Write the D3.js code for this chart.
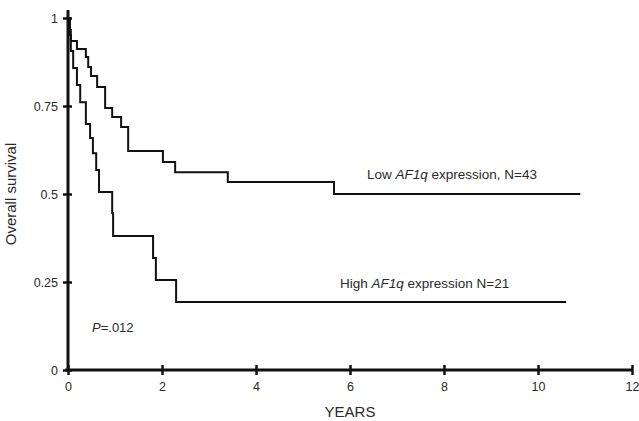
<html>
<head>
<meta charset="utf-8">
<script src="https://cdn.jsdelivr.net/npm/d3@7"></script>
<style>
  body { margin: 0; background: #fff; }
  text { font-family: 'Liberation Sans', Arial, sans-serif; fill: #2a2a2a; }
  .axis .domain { display: none; }
  .axis line { stroke: #111; stroke-width: 2.5; }
  .axis text { font-size: 12.5px; }
  .km { fill: none; stroke: #111; stroke-width: 2; }
</style>
</head>
<body>
<script>
// Kaplan-Meier steps (years, survival)
var lowTimes  = [0, 0.04, 0.06, 0.19, 0.38, 0.43, 0.49, 0.62, 0.79, 0.94, 1.13, 1.28, 2.02, 2.28, 3.40, 5.66, 10.9];
var lowSurv   = [1, 0.966, 0.935, 0.912, 0.889, 0.861, 0.835, 0.804, 0.744, 0.719, 0.690, 0.622, 0.591, 0.562, 0.534, 0.500, 0.500];
var highTimes = [0, 0.04, 0.06, 0.11, 0.19, 0.26, 0.38, 0.47, 0.53, 0.60, 0.66, 0.94, 0.96, 1.81, 1.87, 2.30, 10.6];
var highSurv  = [1, 0.952, 0.906, 0.858, 0.810, 0.761, 0.699, 0.659, 0.616, 0.568, 0.506, 0.446, 0.381, 0.318, 0.256, 0.193, 0.193];

var xTicks = [0, 2, 4, 6, 8, 10, 12];
var yTicks = [0, 0.25, 0.5, 0.75, 1];
var yTickLabels = ['0', '0.25', '0.5', '0.75', '1'];

var margin = {top: 18, right: 7, bottom: 51, left: 68};
var width = 639 - margin.left - margin.right;
var height = 421 - margin.top - margin.bottom;

var svg = d3.select('body')
            .append('svg')
            .attr('width', 639)
            .attr('height', 421)
            .append('g')
            .attr('transform', 'translate(' + margin.left + ',' + margin.top + ')');

var x = d3.scaleLinear().domain([0, 12]).range([0, width]);
var y = d3.scaleLinear().domain([0, 1]).range([height, 0]);

// curves
var line = d3.line()
             .x(function(d) { return x(d.t); })
             .y(function(d) { return y(d.s); })
             .curve(d3.curveStepAfter);

function pairs(ts, ss) {
  return ts.map(function(t, i) { return {t: t, s: ss[i]}; });
}

svg.append('path').attr('class', 'km').attr('d', line(pairs(lowTimes, lowSurv)));
svg.append('path').attr('class', 'km').attr('d', line(pairs(highTimes, highSurv)));

// axes
svg.append('line')
   .attr('x1', 0).attr('x2', 0)
   .attr('y1', y(1) - 8).attr('y2', y(0))
   .attr('stroke', '#111').attr('stroke-width', 3);
svg.append('line')
   .attr('x1', -3).attr('x2', x(12))
   .attr('y1', y(0)).attr('y2', y(0))
   .attr('stroke', '#111').attr('stroke-width', 3);

var yAxis = svg.append('g')
   .attr('class', 'axis')
   .call(d3.axisLeft(y).tickValues(yTicks).tickSize(4).tickPadding(6)
           .tickFormat(function(d, i) { return yTickLabels[i]; }));
yAxis.selectAll('.tick line').attr('x1', -5).attr('x2', 4);
yAxis.selectAll('.tick text').attr('x', -10);

var xAxis = svg.append('g')
   .attr('class', 'axis')
   .attr('transform', 'translate(0,' + height + ')')
   .call(d3.axisBottom(x).tickValues(xTicks).tickSize(4).tickFormat(d3.format('d')));
xAxis.selectAll('.tick line').attr('y1', -5).attr('y2', 5);
xAxis.selectAll('.tick text').attr('y', 12);

// axis titles
svg.append('text')
   .attr('x', x(6)).attr('y', height + 47)
   .attr('text-anchor', 'middle')
   .style('font-size', '15px')
   .text('YEARS');

svg.append('text')
   .attr('transform', 'translate(' + (-52) + ',' + y(0.5) + ') rotate(-90)')
   .attr('text-anchor', 'middle')
   .style('font-size', '15px')
   .text('Overall survival');

// annotations
var lowLab = svg.append('text')
   .attr('x', 299).attr('y', 161)
   .style('font-size', '13.5px');
lowLab.append('tspan').text('Low ');
lowLab.append('tspan').style('font-style', 'italic').text('AF1q');
lowLab.append('tspan').text(' expression, N=43');

var highLab = svg.append('text')
   .attr('x', 272).attr('y', 270)
   .style('font-size', '13.5px');
highLab.append('tspan').text('High ');
highLab.append('tspan').style('font-style', 'italic').text('AF1q');
highLab.append('tspan').text(' expression N=21');

var pLab = svg.append('text')
   .attr('x', 24).attr('y', 314)
   .style('font-size', '13px');
pLab.append('tspan').style('font-style', 'italic').text('P');
pLab.append('tspan').text('=.012');
</script>
</body>
</html>
